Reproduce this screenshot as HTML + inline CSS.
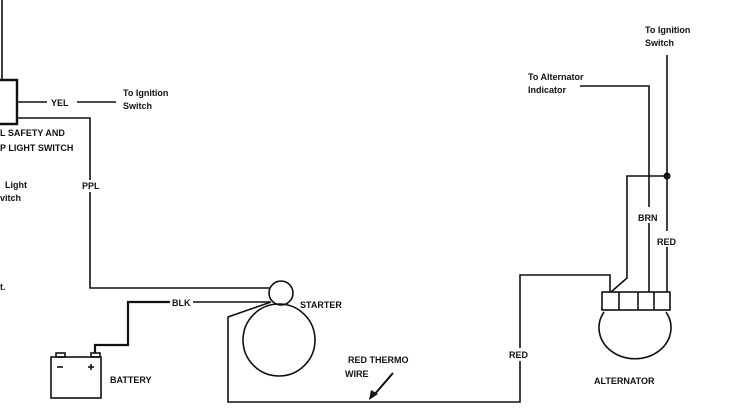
<!DOCTYPE html>
<html><head><style>
body{margin:0;background:#fff;}
svg{display:block}
text{font-family:"Liberation Sans",sans-serif;font-size:9px;font-weight:bold;fill:#111;}
</style></head><body>
<svg width="748" height="411" viewBox="0 0 748 411">
<g stroke="#111" fill="none" stroke-width="1.6">
<line x1="2" y1="0" x2="2" y2="80"/>
<polyline points="0,80 17,80 17,124 0,124" stroke-width="2.4"/>
<line x1="18" y1="102" x2="47" y2="102"/>
<line x1="77" y1="102" x2="116" y2="102"/>
<polyline points="18,118 90,118 90,288 270,288"/>
<polyline points="170,302 128,302 128,345 95,345 95,353" stroke-width="2.2"/>
<line x1="193" y1="302" x2="270" y2="302"/>
<circle cx="281" cy="293" r="12"/>
<circle cx="279" cy="340" r="36"/>
<polyline points="271,302 228,317 228,402 520,402 520,275 610,275 610,292"/>
<line x1="667" y1="55" x2="667" y2="292"/>
<polyline points="580,86 649,86 649,292"/>
<polyline points="667,176 627,176 627,278 611,292"/>
<rect x="602" y="292" width="68" height="18"/>
<line x1="619" y1="292" x2="619" y2="310"/>
<line x1="638" y1="292" x2="638" y2="310"/>
<line x1="654" y1="292" x2="654" y2="310"/>
<path d="M604,312 A36,31 0 1 0 666,312"/>
<rect x="51" y="357" width="50" height="41"/>
<rect x="56" y="353" width="9" height="4"/>
<rect x="91" y="353" width="9" height="4"/>
<line x1="57" y1="367" x2="63" y2="367"/>
<line x1="88" y1="367" x2="94" y2="367"/>
<line x1="91" y1="364" x2="91" y2="370"/>
<line x1="393" y1="373" x2="374" y2="395" stroke-width="2"/>
</g>
<g fill="#fff">
<rect x="80" y="180" width="20" height="12"/>
<rect x="636" y="207" width="24" height="16"/>
<rect x="655" y="231" width="24" height="16"/>
<rect x="507" y="348" width="26" height="13"/>
</g>
<circle cx="667" cy="176" r="3.5" fill="#111"/>
<polygon points="369,400 371,390 378,394" fill="#111"/>
<text x="51" y="106">YEL</text>
<text x="123" y="96" font-weight="normal">To Ignition</text>
<text x="123" y="109" font-weight="normal">Switch</text>
<text x="0" y="136">L SAFETY AND</text>
<text x="0" y="151">P LIGHT SWITCH</text>
<text x="5" y="188" font-weight="normal">Light</text>
<text x="0" y="201" font-weight="normal">vitch</text>
<text x="82" y="189">PPL</text>
<text x="0" y="290" font-size="7">t.</text>
<text x="172" y="306">BLK</text>
<text x="300" y="308">STARTER</text>
<text x="110" y="383">BATTERY</text>
<text x="348" y="363">RED THERMO</text>
<text x="345" y="377">WIRE</text>
<text x="509" y="358">RED</text>
<text x="645" y="33" font-weight="normal">To Ignition</text>
<text x="645" y="46" font-weight="normal">Switch</text>
<text x="528" y="80" font-weight="normal">To Alternator</text>
<text x="528" y="93" font-weight="normal">Indicator</text>
<text x="638" y="221">BRN</text>
<text x="657" y="245">RED</text>
<text x="594" y="384">ALTERNATOR</text>
</svg>
</body></html>
